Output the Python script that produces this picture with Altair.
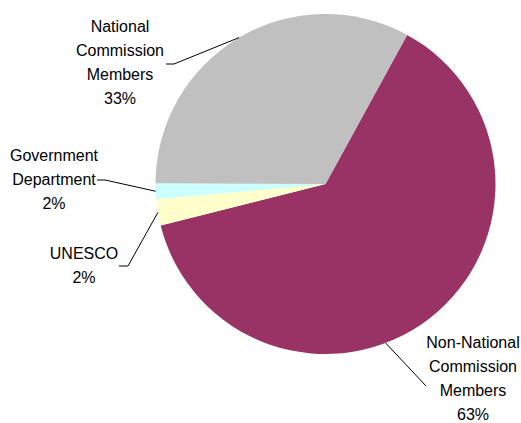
import math
import altair as alt
import pandas as pd

# ---- data ----
categories = ["Non-National Commission Members", "UNESCO",
              "Government Department", "National Commission Members"]
values = [63.1, 2.5, 1.5, 32.9]
label_texts = ["Non-National\nCommission\nMembers", "UNESCO",
               "Government\nDepartment", "National\nCommission\nMembers"]
pct_texts = ["63%", "2%", "2%", "33%"]
colors = ["#993366", "#FFFFCC", "#CCFFFF", "#C0C0C0"]

# ---- layout (annotation placement relative to the pie centre, px) ----
START_DEG = 28.7          # first slice angle (clockwise from 12 o'clock)
R = 170                   # pie radius
LINE_H = 24
label_dx = [147.5, -241.5, -271.5, -205.5]
label_dy = [195, 82, -4, -121]     # centre of each text block
elbow_dx = [100.5, -197.5, -220.5, -151.5]
elbow_dy = [202, 82, -4, -120]
tail_dx = [100.5, -206.5, -228.5, -159.5]
tail_dy = [202, 82, -4, -120]
leader_nudge = [17, 0, 0, 0]

W, H = 391, 368
start = math.radians(START_DEG)

full_labels = [f"{t}\n{p}" for t, p in zip(label_texts, pct_texts)]
n_lines = [s.count("\n") + 1 for s in full_labels]

df = pd.DataFrame({
    "category": categories,
    "value": values,
    "idx": list(range(len(categories))),
    "label": full_labels,
    "lx": label_dx,
    "ly": [dy - (n - 1) * LINE_H / 2 for dy, n in zip(label_dy, n_lines)],
    "bx": elbow_dx, "by": elbow_dy,
    "tx": tail_dx, "ty": tail_dy,
    "nudge": leader_nudge,
})

base = alt.Chart(df)

xs = alt.Scale(domain=[-W / 2, W / 2], nice=False, zero=False)
ys = alt.Scale(domain=[-H / 2, H / 2], nice=False, zero=False, reverse=True)

pie = base.mark_arc(radius=R).encode(
    theta=alt.Theta("value:Q", stack=True,
                    scale=alt.Scale(range=[start, start + 2 * math.pi])),
    color=alt.Color("category:N",
                    scale=alt.Scale(domain=categories, range=colors),
                    legend=None),
    order=alt.Order("idx:Q"),
)

geo = (base
       .transform_window(cum="sum(value)", sort=[alt.SortField("idx")])
       .transform_joinaggregate(total="sum(value)")
       .transform_calculate(
           ang=f"{start} + 2*PI*(datum.cum - datum.value/2)/datum.total + datum.nudge*PI/180")
       .transform_calculate(ex=f"{R}*sin(datum.ang)", ey=f"-{R}*cos(datum.ang)"))

lead1 = geo.mark_rule(color="black", strokeWidth=1).encode(
    x=alt.X("ex:Q", scale=xs, axis=None),
    y=alt.Y("ey:Q", scale=ys, axis=None),
    x2="bx:Q", y2="by:Q",
)
lead2 = base.mark_rule(color="black", strokeWidth=1).encode(
    x=alt.X("bx:Q", scale=xs, axis=None),
    y=alt.Y("by:Q", scale=ys, axis=None),
    x2="tx:Q", y2="ty:Q",
)

labels = base.mark_text(
    font="Liberation Sans", fontSize=16, color="black",
    align="center", baseline="middle", lineBreak="\n", lineHeight=LINE_H,
).encode(
    x=alt.X("lx:Q", scale=xs, axis=None),
    y=alt.Y("ly:Q", scale=ys, axis=None),
    text="label:N",
)

chart = alt.layer(pie, lead1, lead2, labels).properties(
    width=W, height=H,
    padding={"left": 130, "top": 0, "right": 0, "bottom": 55},
    autosize=alt.AutoSizeParams(type="none"),
    background="white",
).configure_view(stroke=None)

chart.save("out.html", embed_options={"renderer": "svg", "actions": False})
